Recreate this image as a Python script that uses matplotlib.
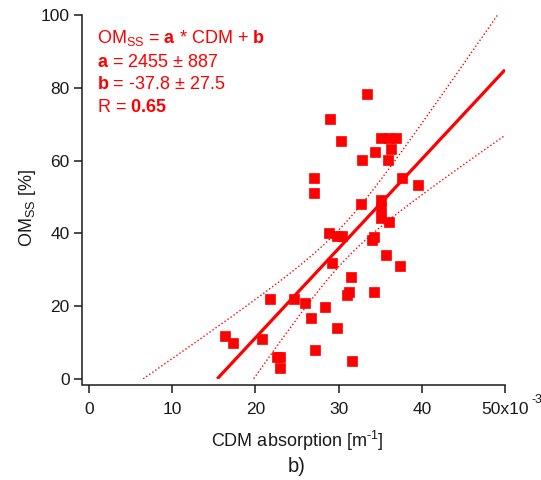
import numpy as np
import matplotlib
matplotlib.use("Agg")
import matplotlib.pyplot as plt

plt.rcParams['font.family'] = ['Liberation Sans', 'DejaVu Sans']
plt.rcParams['mathtext.fontset'] = 'custom'
plt.rcParams['mathtext.rm'] = 'Liberation Sans'
plt.rcParams['mathtext.bf'] = 'Liberation Sans:bold'
plt.rcParams['mathtext.it'] = 'Liberation Sans:italic'

# CDM absorption in units of 1e-3 m^-1
cdm_abs = [16.3, 17.3, 20.8, 21.8, 24.6, 26.0, 26.7, 27.2, 22.6, 23.0,
           22.9, 28.4, 29.8, 31.6, 29.2, 31.5, 31.2, 31.0, 34.3, 35.7,
           37.4, 28.8, 29.8, 30.4, 34.2, 34.0, 36.0, 35.1, 35.1, 35.1,
           32.7, 39.5, 37.6, 32.8, 35.9, 34.4, 36.3, 35.1, 36.0, 36.9,
           30.3, 29.0, 33.4, 27.0, 27.0]
om_ss = [11.9, 9.8, 10.9, 22.0, 22.0, 21.0, 16.8, 8.0, 6.0, 6.0,
         2.9, 19.9, 13.9, 4.9, 32.0, 28.0, 24.0, 23.0, 24.0, 34.1,
         31.0, 40.2, 39.3, 39.3, 39.1, 38.2, 43.2, 44.3, 47.0, 49.3,
         48.2, 53.2, 55.1, 60.2, 60.2, 62.3, 63.2, 66.3, 66.3, 66.3,
         65.3, 71.3, 78.3, 55.1, 51.2]

fit_a, fit_a_err = 2455.0, 887.0
fit_b, fit_b_err = -37.8, 27.5
fit_r = 0.65

xticks = [0, 10, 20, 30, 40, 50]
xticklabels = ['0', '10', '20', '30', '40', '50x10']
yticks = [0, 20, 40, 60, 80, 100]

red = '#ff0000'
W, H = 541, 480
fig = plt.figure(figsize=(W / 100, H / 100), dpi=100)
ax = fig.add_axes([89 / W, 1 - 379 / H, (505 - 89) / W, (379 - 15) / H])

x = np.asarray(cdm_abs)
y = np.asarray(om_ss)
ax.plot(x, y, 's', color=red, ms=6.5, mec=red, mew=0.5, zorder=3)

# fit line and 1-sigma confidence band
xr = x * 1e-3
xm = xr.mean()
xx = np.linspace(0, 50, 400)
xxr = xx * 1e-3
yfit = fit_a * xxr + fit_b
var = (xxr ** 2) * fit_a_err ** 2 + fit_b_err ** 2 - 2 * xxr * xm * fit_a_err ** 2
w = np.sqrt(np.clip(var, 0, None))
up = yfit + w
lo = yfit - w
m = yfit >= 0
ax.plot(xx[m], yfit[m], '-', color=red, lw=2.3, solid_capstyle='butt')
m = up >= 0
ax.plot(xx[m], up[m], ':', color=red, lw=1.0)
m = lo >= 0
ax.plot(xx[m], lo[m], ':', color=red, lw=1.0)

ax.set_xlim(0, 50)
ax.set_ylim(0, 100)
ax.set_xticks(xticks)
ax.set_xticklabels(xticklabels)
ax.set_yticks(yticks)
for s in ['top', 'right']:
    ax.spines[s].set_visible(False)
ax.spines['left'].set_position(('outward', 5.0))
ax.spines['bottom'].set_position(('outward', 4.3))
ax.spines['left'].set_bounds(-1.7, 100)
ax.spines['bottom'].set_bounds(-0.75, 50)
for s in ['left', 'bottom']:
    ax.spines[s].set_linewidth(1.1)
    ax.spines[s].set_color('#1a1a1a')
ax.tick_params(direction='out', length=6, width=1.1, color='#1a1a1a',
               labelsize=12.5, labelcolor='#1a1a1a')
ax.tick_params(axis='y', pad=3)
ax.tick_params(axis='x', pad=6)

# superscript of last x tick label
fig.text(531 / W, 1 - 403 / H, '-3', fontsize=9, color='#1a1a1a',
         ha='left', va='baseline')

fig.text(297 / W, 1 - 447 / H, 'CDM absorption [m$^{\\text{-}1}$]', fontsize=13,
         ha='center', va='baseline', color='#1a1a1a')
fig.text(297 / W, 1 - 472 / H, 'b)', fontsize=14.5,
         ha='center', va='baseline', color='#1a1a1a')
fig.text(27 / W, 1 - 208 / H, 'OM$_{\\mathrm{SS}}$ [%]', fontsize=13,
         rotation=90, ha='center', va='center', color='#1a1a1a')

lines = ['OM$_{\\mathrm{SS}}$ = $\\mathbf{a}$ * CDM + $\\mathbf{b}$',
         '$\\mathbf{a}$ = %d $\\pm$ %d' % (fit_a, fit_a_err),
         '$\\mathbf{b}$ = %.1f $\\pm$ %.1f' % (fit_b, fit_b_err),
         'R = $\\mathbf{%.2f}$' % fit_r]
baselines = [42.7, 67.3, 89.3, 111.5]
for t, yb in zip(lines, baselines):
    fig.text(97 / W, 1 - yb / H, t, fontsize=13, color=red,
             ha='left', va='baseline')

fig.savefig('out.png', dpi=100)
